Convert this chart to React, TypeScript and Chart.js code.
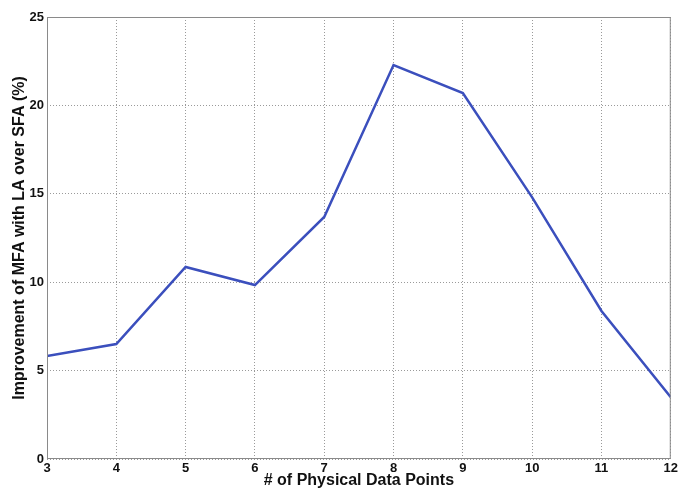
import React, { useEffect, useRef } from "react";
import { Chart, registerables } from "chart.js";

Chart.register(...registerables);

const xValues = [3, 4, 5, 6, 7, 8, 9, 10, 11, 12];
const improvement = [5.83, 6.5, 10.86, 9.84, 13.69, 22.28, 20.7, 14.8, 8.37, 3.5];
const xTitle = "# of Physical Data Points";
const yTitle = "Improvement of MFA with LA over SFA (%)";

const boxPlugin = {
  id: "boxPlugin",
  afterDraw(chart: any) {
    const { ctx, chartArea } = chart;
    ctx.save();
    ctx.strokeStyle = "#8a8a8a";
    ctx.lineWidth = 1;
    ctx.setLineDash([]);
    ctx.strokeRect(chartArea.left + 0.5, chartArea.top + 0.5, chartArea.right - chartArea.left - 1, chartArea.bottom - chartArea.top - 1);
    ctx.restore();
  },
};

export default function App() {
  const ref = useRef<HTMLCanvasElement>(null);
  useEffect(() => {
    const font = { family: "'Liberation Sans', Arial, sans-serif", weight: "bold" as const };
    const chart = new Chart(ref.current!, {
      type: "line",
      data: {
        datasets: [
          {
            data: xValues.map((x, i) => ({ x, y: improvement[i] })),
            borderColor: "#3b4fbd",
            borderWidth: 2.5,
            pointRadius: 0,
            tension: 0,
            fill: false,
          },
        ],
      },
      options: {
        animation: false,
        responsive: false,
        devicePixelRatio: 1,
        layout: { padding: { top: 17, right: 8, left: 0, bottom: 0 } },
        plugins: { legend: { display: false }, tooltip: { enabled: false } },
        scales: {
          x: {
            type: "linear",
            min: 3,
            max: 12,
            afterFit: (s: any) => { s.height = 30; },
            ticks: { stepSize: 1, color: "#111", padding: 2, font: { ...font, size: 13 } },
            grid: { color: "#9a9a9a", drawTicks: false },
            border: { display: false, dash: [1, 2] },
            title: { display: true, text: xTitle, color: "#111", padding: { top: 0, bottom: 0 }, font: { ...font, size: 16, lineHeight: 1 } },
          },
          y: {
            min: 0,
            max: 25,
            afterFit: (s: any) => { s.width = 47; },
            ticks: { stepSize: 5, color: "#111", padding: 3, font: { ...font, size: 13 } },
            grid: { color: "#9a9a9a", drawTicks: false },
            border: { display: false, dash: [1, 2] },
            title: { display: true, text: yTitle, color: "#111", padding: { top: 12, bottom: 0 }, font: { ...font, size: 16, lineHeight: 1 } },
          },
        },
      },
      plugins: [boxPlugin],
    });
    return () => chart.destroy();
  }, []);
  return (
    <div style={{ position: "fixed", left: 0, top: 0, width: 680, height: 489, background: "#fff" }}>
      <canvas ref={ref} width={680} height={489} style={{ width: 680, height: 489 }} />
    </div>
  );
}
